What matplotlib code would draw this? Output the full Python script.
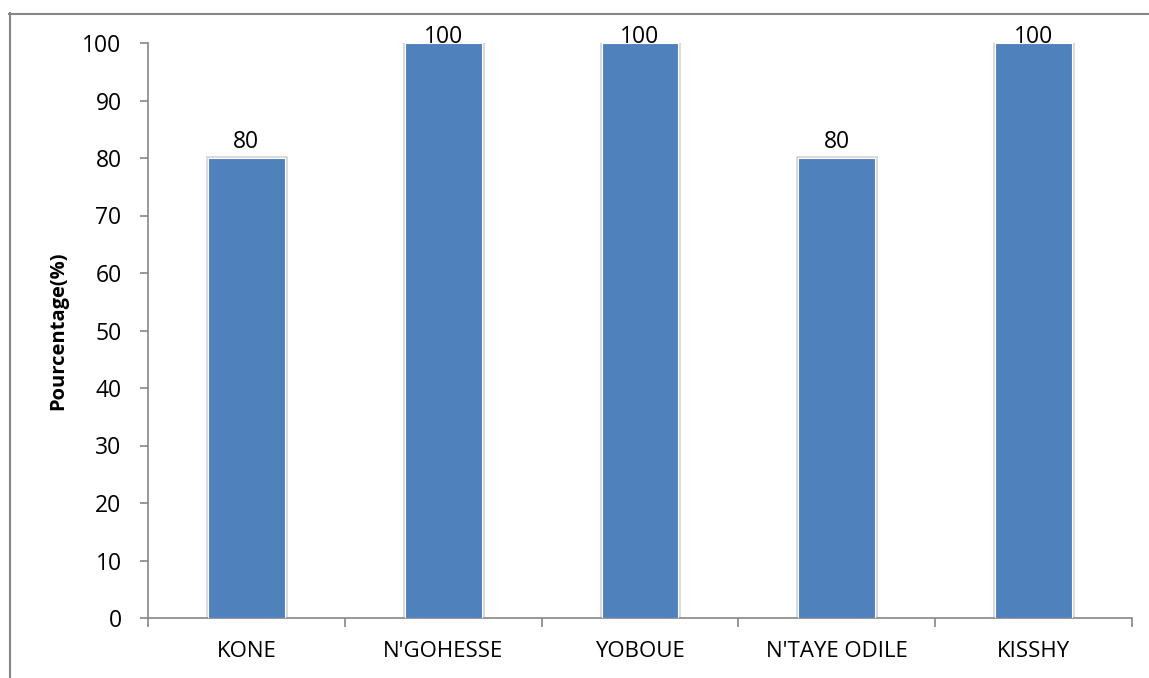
import matplotlib
matplotlib.use("Agg")
import matplotlib.pyplot as plt
from matplotlib.lines import Line2D

categories = ["KONE", "N'GOHESSE", "YOBOUE", "N'TAYE ODILE", "KISSHY"]
values = [80, 100, 100, 80, 100]
y_ticks = [0, 10, 20, 30, 40, 50, 60, 70, 80, 90, 100]

plt.rcParams['font.family'] = ['Open Sans', 'DejaVu Sans']
W, H = 1149, 678
fig = plt.figure(figsize=(W / 100, H / 100), dpi=100)

# outer chart border (top and left visible)
gray = '#868686'
fig.add_artist(Line2D([9.5 / W, 9.5 / W], [0, 1 - 13 / H], transform=fig.transFigure, color=gray, lw=1.5))
fig.add_artist(Line2D([9 / W, 1], [1 - 13.5 / H, 1 - 13.5 / H], transform=fig.transFigure, color=gray, lw=1.5))

ax = fig.add_axes([148 / W, 1 - 618 / H, (1132 - 148) / W, (618 - 43) / H])
x = list(range(len(categories)))
bw = 0.39
ymax = 100
# soft shadow around each bar
ax.bar(x, values, width=bw, color='none', edgecolor='#d9d9d9', lw=3.5, zorder=2)
bars = ax.bar(x, values, width=bw, color='#4F81BD', edgecolor='white', lw=0.8, zorder=3)

# value labels sit above the bar, kept inside the plot area at the top
for xi, v in zip(x, values):
    off = 0 if v >= ymax else 7
    ax.annotate(f"{v}", (xi, v), xytext=(0, off), textcoords='offset points',
                ha='center', va='baseline', fontsize=16.5, color='black', zorder=4,
                annotation_clip=False)

ax.set_xlim(-0.5, len(categories) - 0.5)
ax.set_ylim(0, ymax)
ax.set_yticks(y_ticks)
ax.set_yticklabels([str(t) for t in y_ticks], fontsize=16.5)
ax.set_xticks(x)
ax.set_xticklabels(categories, fontsize=16)
ax.tick_params(axis='x', length=0, pad=16.5)
ax.set_xticks([i + 0.5 for i in range(-1, len(categories))], minor=True)
ax.tick_params(axis='x', which='minor', length=6.5, color=gray, width=1.2)
ax.tick_params(axis='y', length=6, color=gray, width=1.2, pad=13)

for s in ['top', 'right']:
    ax.spines[s].set_visible(False)
for s in ['left', 'bottom']:
    ax.spines[s].set_color(gray)
    ax.spines[s].set_linewidth(1.2)

ax.set_ylabel("Pourcentage(%)", fontsize=14.5, fontweight='bold', labelpad=10)

fig.savefig("out.png", dpi=100)
